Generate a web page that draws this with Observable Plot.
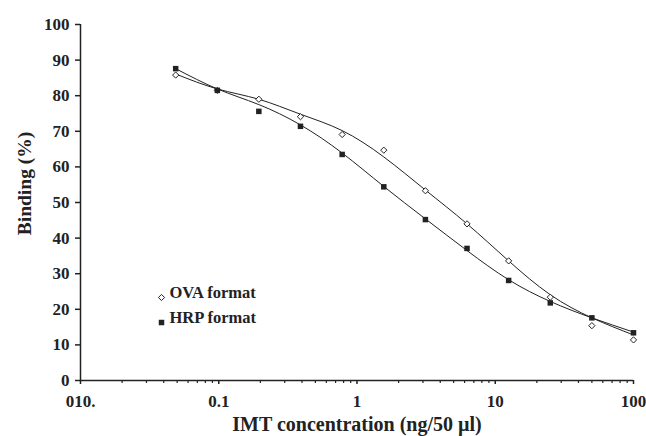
<!DOCTYPE html>
<html>
<head>
<meta charset="utf-8">
<script src="https://cdn.jsdelivr.net/npm/d3@7"></script>
<script src="https://cdn.jsdelivr.net/npm/@observablehq/plot@0.6"></script>
<style>
  html, body { margin: 0; padding: 0; background: #fff; }
  #chart svg { display: block; }
</style>
</head>
<body>
<div id="chart"></div>
<script>
// IMT concentration (ng/50 µl), two-fold dilutions
const concentrations = [0.0488, 0.0977, 0.195, 0.39, 0.781, 1.5625, 3.125, 6.25, 12.5, 25, 50, 100];
// Measured binding (%) for the two formats
const ovaBinding = [85.8, 81.5, 79.0, 74.1, 69.1, 64.7, 53.3, 44.0, 33.6, 23.4, 15.4, 11.4];
const hrpBinding = [87.6, 81.5, 75.6, 71.4, 63.5, 54.4, 45.2, 37.1, 28.1, 21.8, 17.6, 13.4];
// Fitted curves at the same concentrations
const ovaFit = [86.1, 81.9, 79.0, 74.8, 70.2, 62.8, 53.5, 44.0, 33.6, 24.1, 17.6, 12.8];
const hrpFit = [87.6, 81.9, 77.5, 71.8, 63.9, 54.5, 45.4, 36.5, 28.3, 22.2, 17.6, 13.6];
// Axis ticks
const xMajorTicks = [0.01, 0.1, 1, 10, 100];
const xMajorLabels = ["010.", "0.1", "1", "10", "100"];
const xMinorTicks = [0.02,0.03,0.04,0.05,0.06,0.07,0.08,0.09,
                     0.2,0.3,0.4,0.5,0.6,0.7,0.8,0.9,
                     2,3,4,5,6,7,8,9,
                     20,30,40,50,60,70,80,90];
const yTicks = [0,10,20,30,40,50,60,70,80,90,100];
const seriesNames = ["OVA format", "HRP format"];

const ova = concentrations.map((c, i) => ({c, v: ovaBinding[i], f: ovaFit[i]}));
const hrp = concentrations.map((c, i) => ({c, v: hrpBinding[i], f: hrpFit[i]}));

const ink = "#222";
const chart = Plot.plot({
  width: 646,
  height: 436,
  marginLeft: 80,
  marginRight: 13,
  marginTop: 24,
  marginBottom: 56,
  style: {fontFamily: "'Liberation Serif', 'Times New Roman', serif", fontWeight: "bold", fontSize: "17px", color: ink, background: "#fff"},
  x: {type: "log", domain: [0.01, 100], axis: null},
  y: {domain: [0, 100], axis: null},
  marks: [
    Plot.axisY({ticks: yTicks, tickSize: 5, tickPadding: 6, label: null, tickFormat: d => String(d), strokeWidth: 1.5}),
    Plot.axisX({ticks: xMinorTicks, tickSize: 3, tickFormat: () => "", label: null, strokeWidth: 1.2}),
    Plot.axisX({ticks: xMajorTicks, tickSize: 4, tickPadding: 10, label: null, strokeWidth: 1.5,
      tickFormat: d => xMajorLabels[xMajorTicks.indexOf(d)]}),
    Plot.ruleY([0], {stroke: ink, strokeWidth: 1.5}),
    Plot.ruleX([0.01], {stroke: ink, strokeWidth: 1.5}),
    Plot.line(ova, {x: "c", y: "f", curve: "natural", stroke: ink, strokeWidth: 1}),
    Plot.line(hrp, {x: "c", y: "f", curve: "natural", stroke: ink, strokeWidth: 1}),
    Plot.dot(ova, {x: "c", y: "v", symbol: "diamond2", r: 2.8, stroke: ink, strokeWidth: 1, fill: "white"}),
    Plot.dot(hrp, {x: "c", y: "v", symbol: "square", r: 3.1, fill: ink, stroke: "none"}),
    // legend
    Plot.dot([seriesNames[0]], {frameAnchor: "bottom-left", dx: 81, dy: -83, symbol: "diamond2", r: 2.8, stroke: ink, strokeWidth: 1, fill: "white"}),
    Plot.dot([seriesNames[1]], {frameAnchor: "bottom-left", dx: 81, dy: -58, symbol: "square", r: 3.1, fill: ink, stroke: "none"}),
    Plot.text([seriesNames[0]], {frameAnchor: "bottom-left", dx: 89, dy: -83, text: d => d, textAnchor: "start", fontSize: 16.5, fill: ink}),
    Plot.text([seriesNames[1]], {frameAnchor: "bottom-left", dx: 89, dy: -58, text: d => d, textAnchor: "start", fontSize: 16.5, fill: ink}),
    // axis titles
    Plot.text(["Binding (%)"], {frameAnchor: "left", textAnchor: "middle", lineAnchor: "middle", dx: -56, dy: -19, rotate: -90, text: d => d, fontSize: 19.5, fill: ink}),
    Plot.text(["IMT concentration (ng/50 µl)"], {frameAnchor: "bottom", dy: 50, text: d => d, fontSize: 20, fill: ink})
  ]
});
document.getElementById("chart").appendChild(chart);
</script>
</body>
</html>
